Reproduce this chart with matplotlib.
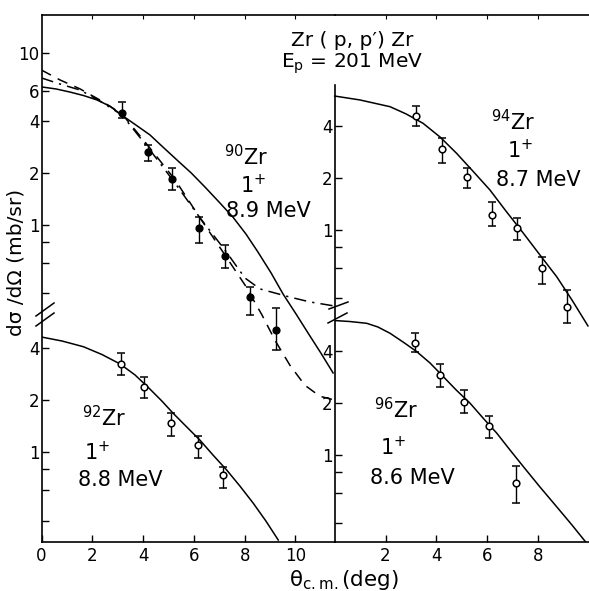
import matplotlib
matplotlib.use('Agg')
import matplotlib.pyplot as plt
from matplotlib.lines import Line2D
from matplotlib.ticker import NullLocator

plt.rcParams['font.family'] = ['DejaVu Sans']
plt.rcParams['mathtext.default'] = 'regular'

# ---------------- data ----------------
# 90Zr 1+ 8.9 MeV  (filled points)
zr90_theta = [3.18, 4.18, 5.13, 6.21, 7.22, 8.21, 9.22]
zr90_xs    = [4.50, 2.67, 1.84, 0.956, 0.66, 0.383, 0.245]
zr90_lo    = [4.17, 2.37, 1.60, 0.783, 0.56, 0.30, 0.187]
zr90_hi    = [5.17, 2.92, 2.14, 1.12, 0.765, 0.438, 0.33]
zr90_solid_t = [0.0, 0.57, 1.12, 1.67, 2.19, 2.70, 3.21, 3.72, 4.27, 4.78, 5.33, 5.89,
                6.44, 6.99, 7.54, 8.05, 8.52, 9.04, 9.51, 10.02, 10.49, 11.0, 11.48]
zr90_solid_y = [6.35, 6.18, 5.93, 5.65, 5.33, 4.90, 4.30, 3.81, 3.34, 2.84, 2.39, 2.01,
                1.66, 1.36, 1.11, 0.886, 0.697, 0.526, 0.397, 0.304, 0.236, 0.180, 0.138]
zr90_dash_t = [0.0, 0.73, 1.52, 2.30, 3.17, 4.27, 5.26, 6.24, 7.22, 8.01, 8.68, 9.19, 9.78, 10.37, 10.96, 11.54]
zr90_dash_y = [7.96, 6.97, 6.18, 5.33, 4.42, 2.80, 1.83, 1.10, 0.67, 0.448, 0.30, 0.214, 0.153, 0.117, 0.101, 0.096]
zr90_dd_t = [0.0, 0.73, 1.52, 2.30, 3.17, 4.27, 5.26, 6.24, 7.22, 8.01, 8.60, 9.78, 10.57, 11.54]
zr90_dd_y = [7.16, 6.60, 6.09, 5.26, 4.36, 2.73, 1.75, 1.10, 0.716, 0.492, 0.425, 0.381, 0.357, 0.338]

# 94Zr 1+ 8.7 MeV
zr94_theta = [3.20, 4.21, 5.20, 6.18, 7.19, 8.17, 9.13]
zr94_xs    = [4.60, 2.96, 2.04, 1.23, 1.03, 0.60, 0.358]
zr94_lo    = [4.02, 2.44, 1.75, 1.06, 0.88, 0.486, 0.288]
zr94_hi    = [5.26, 3.41, 2.28, 1.45, 1.17, 0.694, 0.448]
zr94_solid_t = [0.0, 1.0, 2.18, 2.81, 3.48, 4.15, 4.80, 5.44, 6.11, 6.74, 7.43, 8.08, 8.74, 9.34, 9.97]
zr94_solid_y = [6.01, 5.70, 5.21, 4.73, 4.17, 3.47, 2.79, 2.20, 1.71, 1.29, 0.957, 0.716, 0.535, 0.392, 0.277]

# 92Zr 1+ 8.8 MeV
zr92_theta = [3.12, 4.05, 5.09, 6.15, 7.16]
zr92_xs    = [3.22, 2.39, 1.47, 1.10, 0.736]
zr92_lo    = [2.79, 2.04, 1.24, 0.927, 0.617]
zr92_hi    = [3.75, 2.70, 1.67, 1.24, 0.822]
zr92_solid_t = [0.0, 0.81, 1.65, 2.38, 3.09, 3.68, 4.27, 4.74, 5.19, 5.73, 6.24, 6.75,
                7.29, 7.81, 8.34, 8.84, 9.32]
zr92_solid_y = [4.62, 4.38, 4.06, 3.66, 3.23, 2.79, 2.31, 1.97, 1.67, 1.39, 1.17, 0.961,
                0.787, 0.636, 0.505, 0.398, 0.31]

# 96Zr 1+ 8.6 MeV
zr96_theta = [3.16, 4.15, 5.10, 6.09, 7.14]
zr96_xs    = [4.49, 2.92, 2.04, 1.47, 0.69]
zr96_lo    = [3.98, 2.47, 1.75, 1.25, 0.524]
zr96_hi    = [5.10, 3.38, 2.39, 1.69, 0.863]
zr96_solid_t = [0.0, 0.60, 1.26, 1.70, 2.18, 2.69, 3.23, 3.75, 4.28, 4.78, 5.33, 5.84,
                6.38, 6.90, 7.43, 8.08, 8.74, 9.34, 9.92]
zr96_solid_y = [6.05, 5.97, 5.83, 5.55, 5.10, 4.54, 3.99, 3.43, 2.85, 2.39, 2.00, 1.64,
                1.34, 1.07, 0.855, 0.652, 0.50, 0.392, 0.307]

left_xticks = [0, 2, 4, 6, 8, 10]
right_xticks = [2, 4, 6, 8]
top_yticks = [0.4, 0.6, 0.8, 1, 2, 4, 6, 10]
top_ylabels = ['', '', '', '1', '2', '4', '6', '10']
low_yticks = [0.4, 0.6, 0.8, 1, 2, 4]
low_ylabels = ['', '', '', '1', '2', '4']

# ---------------- layout helpers (pixels) ----------------
W, H = 589, 591
fig = plt.figure(figsize=(W / 100, H / 100), dpi=100)


def rect(x0, y0, x1, y1):
    return [x0 / W, 1 - y1 / H, (x1 - x0) / W, (y1 - y0) / H]


def ylim_from(py_one, ppd, top, bot):
    return (10 ** ((py_one - bot) / ppd), 10 ** ((py_one - top) / ppd))


XL0, XMID, XR = 41.5, 334.7, 589.0
YTOP, YBOT, YLOW = 15.0, 542.0, 300.0
PPU = 25.4
LW = 1.1
tick_kw = dict(direction='in', length=5, width=1.0, labelsize=12, pad=1.5)
xtick_kw = dict(direction='in', length=5, width=1.0, labelsize=12, pad=3.5)


def style(ax, spines):
    ax.set_facecolor('none')
    for s in ['left', 'right', 'top', 'bottom']:
        ax.spines[s].set_visible(s in spines)
        ax.spines[s].set_linewidth(1.2)
    ax.set_yscale('log')
    ax.yaxis.set_minor_locator(NullLocator())
    ax.xaxis.set_minor_locator(NullLocator())


def pts(ax, t, y, yl, yh, filled):
    yerr = [[a - b for a, b in zip(y, yl)], [b - a for a, b in zip(y, yh)]]
    ax.errorbar(t, y, yerr=yerr, fmt='o', ms=4.8, mfc='black' if filled else 'white',
                mec='black', mew=1.1, ecolor='black', elinewidth=1.0, capsize=2.6,
                capthick=1.0, zorder=5, clip_on=False)


# --- A : 90Zr (top left) ---
axA = fig.add_axes(rect(XL0, YTOP, XMID, YBOT))
style(axA, ['left', 'top'])
axA.set_xlim(0, (XMID - XL0) / PPU)
axA.set_ylim(*ylim_from(225, 172, YTOP, YBOT))
axA.set_yticks(top_yticks)
axA.set_yticklabels(top_ylabels)
axA.set_xticks([2, 4, 6, 8, 10])
axA.tick_params(axis='y', **tick_kw)
axA.tick_params(axis='x', bottom=False, labelbottom=False, top=True, direction='in', length=3)
axA.plot(zr90_solid_t, zr90_solid_y, color='black', lw=LW)
axA.plot(zr90_dash_t, zr90_dash_y, color='black', lw=LW, ls=(0, (7, 5)))
axA.plot(zr90_dd_t, zr90_dd_y, color='black', lw=LW, ls=(0, (8, 4, 1.5, 4)))
pts(axA, zr90_theta, zr90_xs, zr90_lo, zr90_hi, True)

# --- B : 92Zr (bottom left) ---
axB = fig.add_axes(rect(XL0, YLOW, XMID, YBOT))
style(axB, ['bottom'])
axB.set_xlim(0, (XMID - XL0) / PPU)
axB.set_ylim(*ylim_from(452, 173, YLOW, YBOT))
axB.set_yticks(low_yticks)
axB.set_yticklabels(low_ylabels)
axB.set_xticks(left_xticks)
axB.tick_params(axis='y', **tick_kw)
axB.tick_params(axis='x', **xtick_kw)
axB.plot(zr92_solid_t, zr92_solid_y, color='black', lw=LW)
pts(axB, zr92_theta, zr92_xs, zr92_lo, zr92_hi, False)

# --- C : 94Zr (top right) ---
axC = fig.add_axes(rect(XMID, YTOP, XR, YBOT))
style(axC, ['left', 'top'])
axC.set_xlim(0, (XR - XMID) / PPU)
ylC = ylim_from(230, 172, YTOP, YBOT)
axC.set_ylim(*ylC)
axC.spines['left'].set_bounds(ylC[0], 10 ** ((230 - 85) / 172))
axC.set_yticks(low_yticks)
axC.set_yticklabels(low_ylabels)
axC.set_xticks(right_xticks)
axC.tick_params(axis='y', **tick_kw)
axC.tick_params(axis='x', bottom=False, labelbottom=False, top=True, direction='in', length=3)
axC.plot(zr94_solid_t, zr94_solid_y, color='black', lw=LW, clip_on=False)
pts(axC, zr94_theta, zr94_xs, zr94_lo, zr94_hi, False)

# --- D : 96Zr (bottom right) ---
axD = fig.add_axes(rect(XMID, YLOW, XR, YBOT))
style(axD, ['bottom'])
axD.set_xlim(0, (XR - XMID) / PPU)
axD.set_ylim(*ylim_from(455, 172, YLOW, YBOT))
axD.set_yticks(low_yticks)
axD.set_yticklabels(low_ylabels)
axD.set_xticks(right_xticks)
axD.tick_params(axis='y', **tick_kw)
axD.tick_params(axis='x', **xtick_kw)
axD.plot(zr96_solid_t, zr96_solid_y, color='black', lw=LW)
pts(axD, zr96_theta, zr96_xs, zr96_lo, zr96_hi, False)


# --- break marks ---
def pline(xs, ys):
    fig.add_artist(Line2D([x / W for x in xs], [1 - y / H for y in ys],
                          color='black', lw=1.1, transform=fig.transFigure))


pline([36, 54], [316, 303])
pline([36, 54], [326, 313])
pline([329, 348], [309, 302])
pline([328, 347], [323, 313])

# --- texts ---
def ftext(x, y, s, size=15, **kw):
    fig.text(x / W, 1 - y / H, s, ha='center', va='center', fontsize=size, **kw)


ftext(352, 40, 'Zr ( p, p\u2032) Zr', 14.5)
ftext(352, 64, r'E$_{p}$ = 201 MeV', 14.5)

ftext(246, 157, r'$^{90}$Zr')
ftext(253, 185, r'1$^{+}$')
ftext(268, 211, '8.9 MeV')

ftext(513, 122, r'$^{94}$Zr')
ftext(520, 150, r'1$^{+}$')
ftext(538, 180, '8.7 MeV')

ftext(104, 418, r'$^{92}$Zr')
ftext(97, 452, r'1$^{+}$')
ftext(120, 480, '8.8 MeV')

ftext(396, 410, r'$^{96}$Zr')
ftext(393, 447, r'1$^{+}$')
ftext(412, 478, '8.6 MeV')

ftext(16, 262, 'd\u03c3 /d\u03a9 (mb/sr)', 14.5, rotation=90)
ftext(344, 580, r'$\theta_{c.m.}$(deg)', 15.5)

fig.savefig('out.png', dpi=100)
